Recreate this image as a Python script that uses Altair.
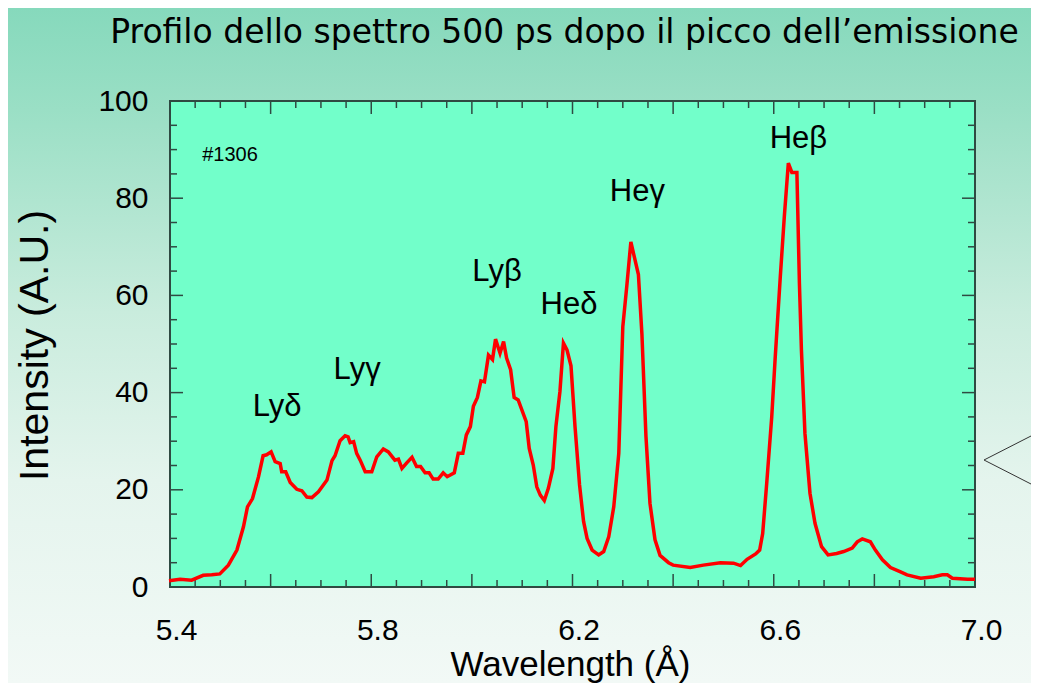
import altair as alt
import pandas as pd

# ---------------- data ----------------
wavelength = [5.398, 5.420, 5.443, 5.466, 5.483, 5.499, 5.516, 5.533, 5.546, 5.554,
              5.564, 5.576, 5.585, 5.592, 5.601, 5.609, 5.619, 5.622, 5.630, 5.639,
              5.652, 5.662, 5.672, 5.682, 5.695, 5.712, 5.722, 5.728, 5.738, 5.748,
              5.754, 5.758, 5.765, 5.771, 5.778, 5.788, 5.801, 5.811, 5.824, 5.834,
              5.847, 5.854, 5.861, 5.871, 5.881, 5.890, 5.898, 5.907, 5.915, 5.923,
              5.933, 5.943, 5.951, 5.965, 5.973, 5.982, 5.989, 5.997, 6.003, 6.011,
              6.018, 6.025, 6.033, 6.041, 6.047, 6.056, 6.063, 6.069, 6.077, 6.084,
              6.092, 6.108, 6.114, 6.122, 6.129, 6.136, 6.144, 6.152, 6.161, 6.167,
              6.175, 6.182, 6.189, 6.197, 6.205, 6.214, 6.222, 6.229, 6.239, 6.252,
              6.262, 6.272, 6.282, 6.292, 6.300, 6.308, 6.316, 6.331, 6.338, 6.346,
              6.354, 6.364, 6.374, 6.391, 6.400, 6.434, 6.460, 6.494, 6.520, 6.534,
              6.547, 6.564, 6.572, 6.578, 6.586, 6.596, 6.603, 6.613, 6.621, 6.629,
              6.636, 6.646, 6.651, 6.655, 6.662, 6.672, 6.682, 6.695, 6.708, 6.725,
              6.739, 6.756, 6.766, 6.776, 6.792, 6.802, 6.816, 6.832, 6.852, 6.865,
              6.892, 6.918, 6.935, 6.945, 6.955, 6.985, 7.000]
intensity = [1.3, 1.6, 1.4, 2.4, 2.5, 2.7, 4.5, 7.6, 12.4, 16.5,
             18.2, 22.7, 27.0, 27.2, 27.8, 25.8, 25.4, 23.7, 23.7, 21.5,
             20.1, 19.8, 18.5, 18.4, 19.6, 22.0, 26.0, 27.0, 30.1, 31.1,
             30.9, 29.7, 29.9, 27.5, 26.1, 23.7, 23.7, 26.8, 28.4, 27.8,
             26.1, 26.3, 24.4, 25.6, 26.7, 24.8, 24.8, 23.5, 23.5, 22.2,
             22.2, 23.5, 22.7, 23.5, 27.5, 27.5, 31.3, 33.0, 37.2, 39.0,
             42.4, 42.2, 47.7, 46.8, 51.0, 48.1, 50.5, 47.1, 44.7, 39.0,
             38.5, 34.0, 28.5, 25.1, 20.6, 18.9, 17.8, 20.3, 24.4, 33.0,
             40.2, 50.2, 48.8, 45.5, 33.0, 21.0, 13.5, 10.0, 7.6, 6.6,
             7.3, 10.3, 16.5, 27.5, 53.6, 62.0, 71.0, 64.3, 52.0, 31.0,
             17.2, 9.7, 6.5, 5.0, 4.5, 4.0, 4.5, 5.0, 4.9, 4.4,
             5.7, 6.8, 7.6, 11.0, 21.3, 35.0, 47.4, 63.8, 76.2, 87.2,
             85.3, 85.3, 62.5, 48.8, 31.6, 19.3, 13.1, 8.3, 6.6, 6.9,
             7.3, 8.0, 9.3, 9.9, 9.3, 7.6, 5.6, 4.0, 3.1, 2.5,
             1.8, 2.1, 2.5, 2.5, 1.8, 1.6, 1.6]

line_names = ["Lyδ", "Lyγ", "Lyβ", "Heδ", "Heγ", "Heβ"]
line_name_x = [5.613, 5.772, 6.050, 6.193, 6.329, 6.649]
line_name_y = [37.0, 44.7, 64.8, 58.0, 81.3, 92.2]

shot_text = ["#1306"]
shot_x = [5.464]
shot_y = [88.9]

x_label_values = [5.4, 5.8, 6.2, 6.6, 7.0]
y_label_values = [0, 20, 40, 60, 80, 100]
x_major_ticks = [5.4, 5.6, 5.8, 6.0, 6.2, 6.4, 6.6, 6.8, 7.0]
x_minor_ticks = [5.45, 5.5, 5.55, 5.65, 5.7, 5.75, 5.85, 5.9, 5.95, 6.05, 6.1, 6.15,
                 6.25, 6.3, 6.35, 6.45, 6.5, 6.55, 6.65, 6.7, 6.75, 6.85, 6.9, 6.95]
y_major_ticks = [0, 20, 40, 60, 80, 100]
y_minor_ticks = [5, 10, 15, 25, 30, 35, 45, 50, 55, 65, 70, 75, 85, 90, 95]

title_text = "Profilo dello spettro 500 ps dopo il picco dell’emissione"
x_title = "Wavelength  (Å)"
y_title = "Intensity  (A.U.)"

# ---------------- layout ----------------
W, H = 805, 486
PAD_L, PAD_T, PAD_R, PAD_B = 162, 93, 56, 96
MAJOR, MINOR = 13, 7
FRAME = "#2f4a42"
FONT = "Liberation Sans"

xs = alt.Scale(domain=[5.4, 7.0], nice=False, zero=False)
ys = alt.Scale(domain=[0, 100], nice=False, zero=False)

spec_df = pd.DataFrame({"wl": wavelength, "inten": intensity})
names_df = pd.DataFrame({"name": line_names, "x": line_name_x, "y": line_name_y})
shot_df = pd.DataFrame({"name": shot_text, "x": shot_x, "y": shot_y})
one = pd.DataFrame({"d": [0]})

gradient = alt.LinearGradient(
    gradient="linear",
    stops=[alt.GradientStop(color="#86d9bc", offset=0),
           alt.GradientStop(color="#9adfc5", offset=0.15),
           alt.GradientStop(color="#c9ecdd", offset=0.45),
           alt.GradientStop(color="#e4f4ed", offset=0.7),
           alt.GradientStop(color="#f2f9f6", offset=1)],
    x1=0, x2=0, y1=0, y2=1)

bg = alt.Chart(one).mark_rect(fill=gradient).encode(
    x=alt.value(-PAD_L), x2=alt.value(W + PAD_R),
    y=alt.value(-PAD_T), y2=alt.value(H + PAD_B))

plot_bg = alt.Chart(one).mark_rect(fill="#72ffca", stroke=FRAME, strokeWidth=2).encode(
    x=alt.value(0), x2=alt.value(W), y=alt.value(0), y2=alt.value(H))


def xticks(vals, length):
    df = pd.DataFrame({"t": vals})
    bottom = alt.Chart(df).mark_rule(color=FRAME, strokeWidth=1.5).encode(
        x=alt.X("t:Q", scale=xs), y=alt.value(H), y2=alt.value(H - length))
    top = alt.Chart(df).mark_rule(color=FRAME, strokeWidth=1.5).encode(
        x=alt.X("t:Q", scale=xs), y=alt.value(0), y2=alt.value(length))
    return [bottom, top]


def yticks(vals, length):
    df = pd.DataFrame({"t": vals})
    left = alt.Chart(df).mark_rule(color=FRAME, strokeWidth=1.5).encode(
        y=alt.Y("t:Q", scale=ys), x=alt.value(0), x2=alt.value(length))
    right = alt.Chart(df).mark_rule(color=FRAME, strokeWidth=1.5).encode(
        y=alt.Y("t:Q", scale=ys), x=alt.value(W), x2=alt.value(W - length))
    return [left, right]


ticks = (xticks(x_major_ticks, MAJOR) + xticks(x_minor_ticks, MINOR)
         + yticks(y_major_ticks, MAJOR) + yticks(y_minor_ticks, MINOR))

line = alt.Chart(spec_df).mark_line(color="#ff0000", strokeWidth=3.5).encode(
    x=alt.X("wl:Q", scale=xs,
            axis=alt.Axis(values=x_label_values, format=".1f", ticks=False, domain=False,
                          grid=False, labelFont=FONT, labelFontSize=30, labelColor="black",
                          labelPadding=28, labelFlush=False, labelOffset=6,
                          title=x_title, titleFont=FONT, titleFontSize=35,
                          titleFontWeight="normal", titleColor="black", titleX=400, titleY=77,
                          titleAlign="center", titleBaseline="middle", zindex=1)),
    y=alt.Y("inten:Q", scale=ys,
            axis=alt.Axis(values=y_label_values, ticks=False, domain=False, grid=False,
                          labelFont=FONT, labelFontSize=30, labelColor="black", labelPadding=22,
                          labelFlush=False,
                          title=y_title, titleFont=FONT, titleFontSize=41,
                          titleFontWeight="normal", titleColor="black", titleX=-135, titleY=244,
                          titleAngle=270, titleAlign="center", titleBaseline="middle", zindex=1)),
)

names = alt.Chart(names_df).mark_text(font=FONT, fontSize=31, color="black",
                                      align="center", baseline="middle").encode(
    x=alt.X("x:Q", scale=xs), y=alt.Y("y:Q", scale=ys), text="name:N")

shot = alt.Chart(shot_df).mark_text(font=FONT, fontSize=20, color="black",
                                    align="left", baseline="middle").encode(
    x=alt.X("x:Q", scale=xs), y=alt.Y("y:Q", scale=ys), text="name:N")

callout_a = alt.Chart(one).mark_rule(color="#333333", strokeWidth=1).encode(
    x=alt.value(814), x2=alt.value(W + PAD_R), y=alt.value(359), y2=alt.value(335))
callout_b = alt.Chart(one).mark_rule(color="#333333", strokeWidth=1).encode(
    x=alt.value(814), x2=alt.value(W + PAD_R), y=alt.value(359), y2=alt.value(383))

chart = alt.layer(bg, plot_bg, *ticks, line, names, shot, callout_a, callout_b).properties(
    width=W, height=H,
    padding={"left": PAD_L, "top": PAD_T, "right": PAD_R, "bottom": PAD_B},
    autosize=alt.AutoSizeParams(type="none"),
    title=alt.TitleParams(title_text, font="DejaVu Sans", fontSize=33, fontWeight="normal",
                          color="black", anchor="middle", baseline="alphabetic",
                          frame="group", offset=-68, dx=-8, zindex=1),
).configure_view(strokeWidth=0).configure(background="#cfeee0")

chart.save("out.html", embed_options={"renderer": "svg", "actions": False})
